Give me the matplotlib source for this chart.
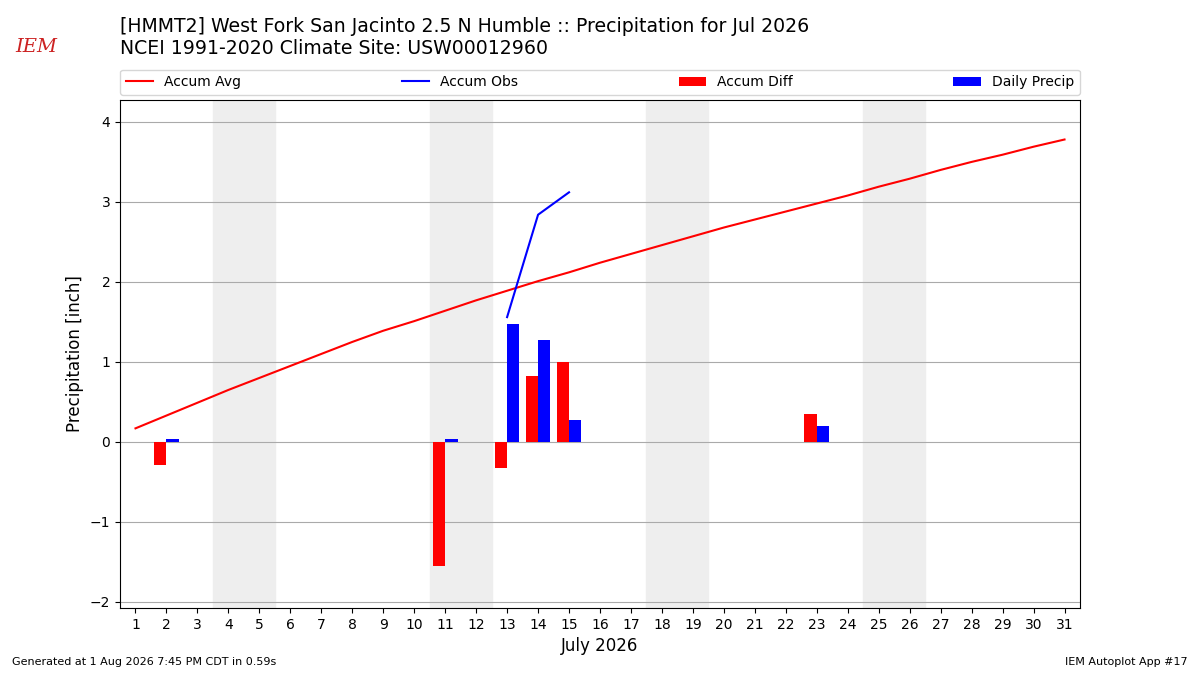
import matplotlib
matplotlib.use("Agg")
import matplotlib.pyplot as plt
import numpy as np

days = list(range(1, 32))
accum_avg = [0.17, 0.33, 0.49, 0.65, 0.80, 0.95, 1.10, 1.25, 1.39, 1.51,
             1.64, 1.77, 1.89, 2.01, 2.12, 2.24, 2.35, 2.46, 2.57, 2.68,
             2.78, 2.88, 2.98, 3.08, 3.19, 3.29, 3.40, 3.50, 3.59, 3.69, 3.78]
obs_days = [13, 14, 15]
accum_obs = [1.56, 2.84, 3.12]
precip_days = [2, 11, 13, 14, 15, 23]
daily_precip = [0.04, 0.04, 1.48, 1.28, 0.28, 0.20]
diff_days = [2, 11, 13, 14, 15, 23]
accum_diff = [-0.29, -1.55, -0.33, 0.83, 1.00, 0.35]
weekends = [(3.5, 5.5), (10.5, 12.5), (17.5, 19.5), (24.5, 26.5)]

fig = plt.figure(figsize=(12, 6.75), dpi=100)
ax = fig.add_axes([0.1, 0.0993, 0.8, 0.7527])

for a, b in weekends:
    ax.axvspan(a, b, color="#eeeeee", zorder=0)

ax.plot(days, accum_avg, color="red", label="Accum Avg", zorder=3)
ax.plot(obs_days, accum_obs, color="blue", label="Accum Obs", zorder=3)
ax.bar(np.array(diff_days) - 0.4, accum_diff, width=0.4, align="edge", color="red",
       label="Accum Diff", zorder=2)
ax.bar(np.array(precip_days), daily_precip, width=0.4, align="edge", color="blue",
       label="Daily Precip", zorder=2)

ax.set_xlim(0.5, 31.5)
ax.set_ylim(-2.075, 4.275)
ax.set_xticks(days)
ax.grid(axis="y", color="#aaaaaa", linewidth=0.8)
ax.set_axisbelow(True)
ax.set_ylabel("Precipitation [inch]", fontsize=12)
ax.set_xlabel("July 2026", fontsize=12)

ax.legend(loc="lower left", bbox_to_anchor=(0, 1.01, 1, 0.1), ncol=4,
          mode="expand", borderaxespad=0, fontsize=10)

fig.text(0.1, 0.945, "[HMMT2] West Fork San Jacinto 2.5 N Humble :: Precipitation for Jul 2026\n"
         "NCEI 1991-2020 Climate Site: USW00012960", fontsize=13.6, va="center", ha="left")
fig.text(0.03, 0.93, "IEM", color="#cc2222", fontsize=14, style="italic",
         family="DejaVu Serif", ha="center", va="center")
fig.text(0.01, 0.015, "Generated at 1 Aug 2026 7:45 PM CDT in 0.59s", fontsize=8)
fig.text(0.99, 0.015, "IEM Autoplot App #17", fontsize=8, ha="right")

fig.savefig("out.png", dpi=100)
